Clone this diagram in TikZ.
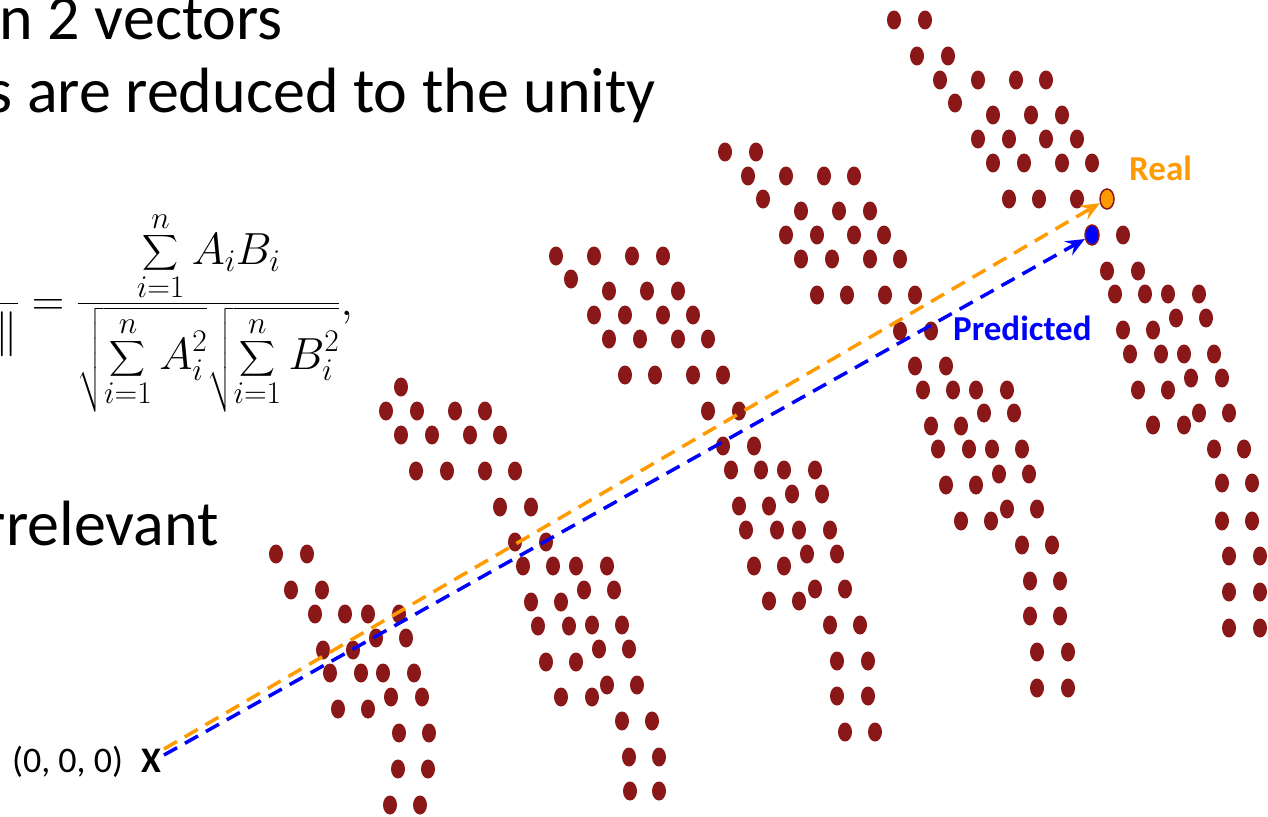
\documentclass[tikz,border=0pt]{standalone}
\usepackage{fix-cm}
\usepackage{amsmath}
\usepackage{fontspec}
\setmainfont{Carlito}
\usetikzlibrary{arrows.meta,shapes.geometric}
\definecolor{clrDot}{RGB}{139,24,24}
\definecolor{clrReal}{RGB}{255,155,0}
\definecolor{clrPred}{RGB}{0,0,255}
\tikzset{
  dotfill/.style={fill=clrDot},
  slide/.style={font=\fontsize{64}{76}\selectfont,inner sep=0pt,anchor=base east},
  formula/.style={font=\fontsize{45}{54}\selectfont,inner sep=0pt},
  originlabel/.style={font=\fontsize{36}{43}\selectfont,inner sep=0pt,anchor=base west},
  veclabel/.style={font=\fontsize{35}{42}\selectfont\bfseries,inner sep=0pt,anchor=base west},
  tipdot/.style={ellipse,draw=clrDot,line width=1.5pt,minimum width=14pt,
    minimum height=20pt,inner sep=0pt},
  vec/.style={line width=3.5pt,dash pattern=on 15pt off 9pt,
    -{Stealth[length=19pt,width=16pt,inset=7pt]}}
}

\begin{document}
\begin{tikzpicture}[x=1pt,y=-1pt]
  \clip (0,0) rectangle (1268,816);

  % slide text, cut at the left edge
  \node[slide] (line1) at (283,40) {n 2 vectors};
  \node[slide] (line2) at (656,112) {s are reduced to the unity};
  \node[slide] (line3) at (219,545) {rrelevant};

  \node[formula,anchor=base east] (cosine) at (353,315)
    {$\displaystyle \frac{A\cdot B}{\|A\|\|B\|}
     = \frac{\displaystyle\sum_{i=1}^{n} A_iB_i}
       {\sqrt{\displaystyle\sum_{i=1}^{n} A_i^2}\sqrt{\displaystyle\sum_{i=1}^{n} B_i^2}},$};

  % arm 1
  \foreach \x/\y in {276/554,307/554,291/590,322/590,315/614,345/614,368/614,399/614,
    376/638,406/638,323/650,353/650,330/673,361/673,383/673,414/673,391/697,422/697,
    338/709,368/709,399/733,429/733,398/769,428/769,390/805,420/805}
    \fill[dotfill] (\x,\y) ellipse [x radius=7pt,y radius=9.5pt];
  % arm 2
  \foreach \x/\y in {401/387,386/411,417/411,455/411,485/411,401/435,432/435,470/435,500/435,
    416/471,447/471,485/471,515/471,500/507,531/507,515/542,546/542,
    523/566,553/566,576/566,607/566,584/590,614/590,531/602,561/602,
    538/626,569/626,592/625,622/625,599/649,629/649,546/662,576/662,
    607/685,637/685,561/697,592/697,622/721,652/721,629/757,659/757,630/791,659/791}
    \fill[dotfill] (\x,\y) ellipse [x radius=7pt,y radius=9.5pt];
  % arm 3
  \foreach \x/\y in {556/256,594/256,632/256,663/256,571/279,609/291,647/291,678/291,
    594/315,625/315,663/315,693/315,609/339,640/339,678/339,708/339,
    625/375,655/375,693/375,723/375,708/411,739/411,723/446,754/446,
    731/470,761/470,784/470,815/470,792/494,822/494,739/506,769/506,
    746/530,777/530,799/530,830/530,807/554,837/554,754/566,784/566,
    815/589,845/589,769/601,799/601,830/625,860/625,837/661,868/661,
    837/696,868/696,845/732,875/732}
    \fill[dotfill] (\x,\y) ellipse [x radius=7pt,y radius=9.5pt];
  % arm 4
  \foreach \x/\y in {725/152,756/152,748/176,786/176,824/176,854/176,763/199,
    801/211,839/211,870/211,786/235,817/235,854/235,884/235,
    801/259,832/259,870/259,900/259,817/295,847/295,885/295,915/295,
    900/331,931/331,915/366,946/366,923/390,953/390,976/390,1007/390,
    984/413,1014/413,931/426,961/426,938/449,969/449,992/449,1022/449,
    999/474,1029/474,946/485,976/485,1007/509,1037/509,961/521,991/521,
    1022/545,1052/545,1030/581,1060/581,1030/616,1060/616,
    1037/652,1068/652,1037/688,1068/688}
    \fill[dotfill] (\x,\y) ellipse [x radius=7pt,y radius=9.5pt];
  % arm 5
  \foreach \x/\y in {894/20,925/20,917/56,948/56,940/80,978/80,1016/80,1046/80,955/103,
    993/115,1031/115,1062/115,978/139,1009/139,1046/139,1077/139,
    993/163,1024/163,1062/163,1092/163,1009/199,1039/199,1077/199,1123/235,
    1107/271,1138/271,1115/294,1145/294,1168/294,1199/294,1176/318,1206/318,
    1123/330,1153/330,1130/354,1161/354,1184/354,1214/354,1191/378,1222/378,
    1138/390,1168/390,1199/413,1229/413,1153/425,1184/425,1214/449,1244/449,
    1222/483,1252/483,1222/521,1252/521,1229/556,1260/556,1229/592,1260/592,
    1229/628,1260/628}
    \fill[dotfill] (\x,\y) ellipse [x radius=7pt,y radius=9.5pt];

  \node[tipdot,fill=clrReal] (realdot) at (1107,199) {};
  \node[tipdot,fill=clrPred] (preddot) at (1092,235) {};

  \node[originlabel] (zero) at (12,772) {(0, 0, 0)};
  \node[originlabel,font=\fontsize{36}{43}\selectfont\bfseries] (xmark) at (141,772) {X};
  \coordinate (origin) at (164,752);

  \draw[vec,draw=clrReal] ([yshift=3pt]origin) -- (realdot);
  \draw[vec,draw=clrPred] ([yshift=-3pt]origin) -- (preddot);

  \node[veclabel,text=clrReal] (reallabel) at (1129,180) {Real};
  \node[veclabel,text=clrPred] (predlabel) at (953,340) {Predicted};
\end{tikzpicture}
\end{document}
